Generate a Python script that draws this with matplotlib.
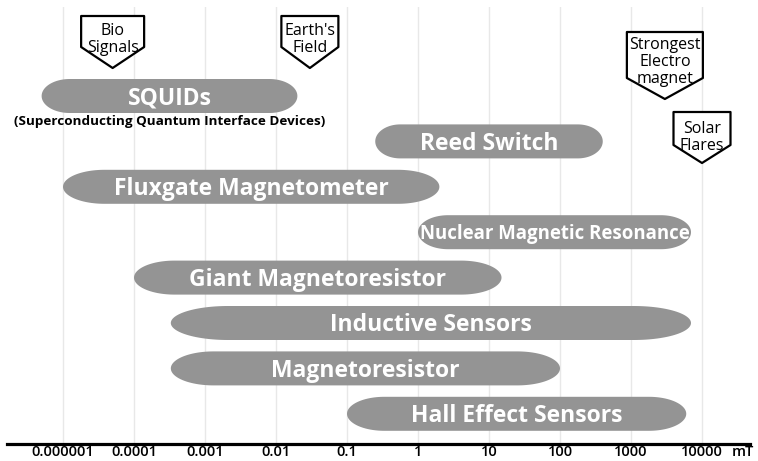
import numpy as np
import matplotlib
matplotlib.use("Agg")
import matplotlib.pyplot as plt
from matplotlib.patches import Polygon
import matplotlib.transforms as mtransforms
from matplotlib.ticker import NullLocator

# ---------------- data ----------------
sensors = ["SQUIDs", "Reed Switch", "Fluxgate Magnetometer",
           "Nuclear Magnetic Resonance", "Giant Magnetoresistor",
           "Inductive Sensors", "Magnetoresistor", "Hall Effect Sensors"]
range_low = [5e-6, 0.25, 1e-5, 1, 1e-4, 3.3e-4, 3.3e-4, 0.1]      # mT
range_high = [0.02, 400, 2, 7000, 15, 7000, 100, 6000]            # mT
squid_note = "(Superconducting Quantum Interface Devices)"

landmarks = ["Bio\nSignals", "Earth's\nField", "Strongest\nElectro\nmagnet", "Solar\nFlares"]
landmark_values = [5e-5, 0.03, 3000, 10000]

tick_values = [1e-5, 1e-4, 1e-3, 1e-2, 1e-1, 1, 10, 100, 1000, 10000]
tick_labels = ["0.000001", "0.0001", "0.001", "0.01", "0.1", "1", "10", "100", "1000", "10000"]
unit_label = "mT"

# ---------------- layout ----------------
W, H = 758, 461
PX_PER_DEC, X_ONE = 71, 418
ROW0, ROW_STEP = 96, 45.4
BAR_GRAY = "#949494"
FONT = ["Open Sans", "DejaVu Sans"]

def px_to_log(px):
    return (px - X_ONE) / PX_PER_DEC

def py_to_row(py):
    return (py - ROW0) / ROW_STEP

# callout geometry in pixels: width, tip height, body height, tip y
callout_layout = [(63, 21, 31, 68), (57, 21, 31, 68), (76, 21, 46, 99), (57, 18, 33, 163)]

fig = plt.figure(figsize=(W / 100, H / 100), dpi=100)
ax = fig.add_axes([7 / W, 17 / H, 743 / W, 437 / H])
ax.set_xscale("log")
ax.set_xlim(10 ** px_to_log(7), 10 ** px_to_log(750))
ax.set_ylim(py_to_row(444), py_to_row(7))

for s in ["top", "left", "right"]:
    ax.spines[s].set_visible(False)
ax.spines["bottom"].set_linewidth(2.3)
ax.spines["bottom"].set_color("black")
ax.set_yticks([])
ax.set_xticks(tick_values)
ax.set_xticklabels(tick_labels, fontfamily=FONT, fontweight="semibold", fontsize=10.5)
ax.xaxis.set_minor_locator(NullLocator())
ax.tick_params(axis="x", length=0, pad=1)
ax.grid(axis="x", color="#e8e8e8", linewidth=1)
ax.set_axisbelow(True)

# unit label next to the last tick label
fig.text(743 / W, 1 - 452 / H, unit_label, ha="center", va="center",
         fontfamily=FONT, fontweight="semibold", fontsize=10.5)

# ---------------- capsule bars ----------------
hh = 17 / ROW_STEP
for i, (name, lo, hi) in enumerate(zip(sensors, range_low, range_high)):
    L, R = np.log10(lo), np.log10(hi)
    rx = 0.11 * (R - L)
    t1 = np.linspace(np.pi / 2, 3 * np.pi / 2, 60)
    t2 = np.linspace(-np.pi / 2, np.pi / 2, 60)
    xs = np.concatenate([L + rx + rx * np.cos(t1), R - rx + rx * np.cos(t2)])
    ys = np.concatenate([i + hh * np.sin(t1), i + hh * np.sin(t2)])
    ax.add_patch(Polygon(np.column_stack([10 ** xs, ys]), closed=True,
                         facecolor=BAR_GRAY, edgecolor="none", zorder=2))
    fs = 13.4 if len(name) > 22 else 16.5
    tr = ax.transData + mtransforms.ScaledTranslation(0, -0.357 * fs / 72, fig.dpi_scale_trans)
    ax.text(10 ** ((L + R) / 2), i, name, transform=tr, ha="center", va="baseline",
            color="white", fontweight="bold", fontsize=fs, fontfamily=FONT, zorder=3)
    if i == 0:
        tr2 = ax.transData + mtransforms.ScaledTranslation(0, -26 / 100, fig.dpi_scale_trans)
        ax.text(10 ** ((L + R) / 2), i, squid_note, transform=tr2, ha="center", va="center",
                color="black", fontweight="bold", fontsize=9.7, fontfamily=FONT, zorder=3)

# ---------------- callouts ----------------
for text, val, (w, th, bh, tip_py) in zip(landmarks, landmark_values, callout_layout):
    tr = mtransforms.ScaledTranslation(val, py_to_row(tip_py), ax.transData)
    verts = [(0, 0), (w / 2, th), (w / 2, th + bh), (-w / 2, th + bh), (-w / 2, th)]
    ax.add_patch(Polygon(verts, closed=True, facecolor="white", edgecolor="black",
                         linewidth=1.6, joinstyle="round", transform=tr, zorder=5,
                         clip_on=False))
    lines = text.split("\n")
    n = len(lines)
    for k, line in enumerate(lines):
        base = th - 5 + 17 * (n - 1 - k)
        ax.text(0, base, line, transform=tr, ha="center", va="baseline",
                fontsize=11.5, fontfamily=FONT, color="black", zorder=6, clip_on=False)

fig.savefig("out.png", dpi=100)
